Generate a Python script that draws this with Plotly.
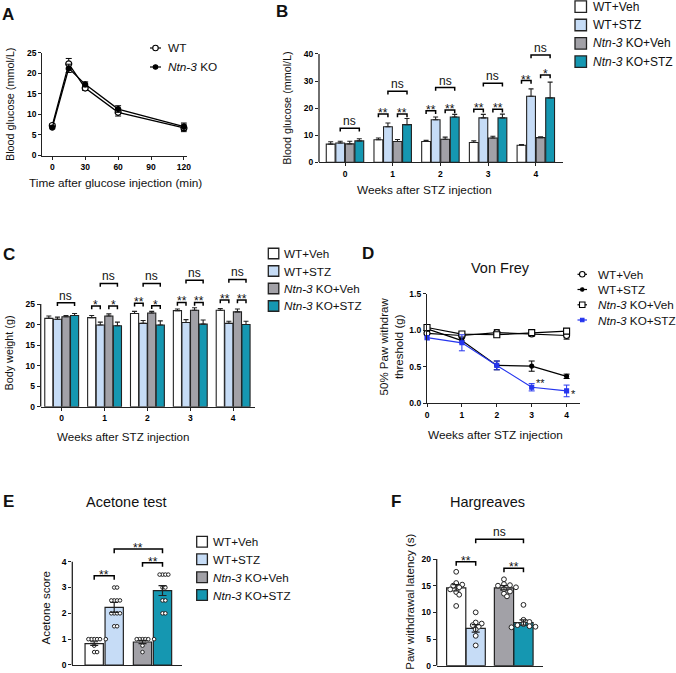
import plotly.graph_objects as go

W, H = 676, 673
FONT = "Liberation Sans, Arial, sans-serif"
INK = "#222222"

# ---------------- data ----------------
# A: glucose tolerance test
a_time = [0, 15, 30, 60, 120]
a_wt = [7.3, 22.3, 16.4, 10.5, 6.7]
a_wt_err = [0.4, 1.3, 0.6, 0.9, 0.9]
a_ko = [6.8, 21.2, 17.3, 11.3, 7.0]
a_ko_err = [0.3, 1.0, 0.6, 0.8, 0.9]

groups = ["WT+Veh", "WT+STZ", "<i>Ntn-3</i> KO+Veh", "<i>Ntn-3</i> KO+STZ"]
weeks = [0, 1, 2, 3, 4]

# B: blood glucose after STZ
b_wt_veh = [6.7, 8.3, 7.7, 7.3, 6.3]
b_wt_stz = [7.1, 13.1, 15.7, 16.4, 24.4]
b_ko_veh = [6.8, 7.7, 8.5, 9.0, 9.1]
b_ko_stz = [7.9, 13.9, 16.7, 16.4, 23.8]
b_sem = [[0.9, 0.7, 0.4, 0.6, 0.3],
         [0.7, 1.4, 1.0, 1.3, 2.7],
         [1.0, 0.7, 0.8, 0.6, 0.3],
         [0.8, 2.3, 1.0, 1.4, 5.8]]
b_sig = [(0, 1, 3, 12.6, "ns"),
         (1, 0, 1, 17.8, "**"), (1, 2, 3, 17.8, "**"), (1, 1, 3, 26.2, "ns"),
         (2, 0, 1, 19.0, "**"), (2, 2, 3, 19.3, "**"), (2, 1, 3, 27.6, "ns"),
         (3, 0, 1, 19.6, "**"), (3, 2, 3, 19.6, "**"), (3, 1, 3, 29.2, "ns"),
         (4, 0, 1, 30.2, "**"), (4, 2, 3, 32.2, "*"), (4, 1, 3, 39.6, "ns")]

# C: body weight
c_wt_veh = [21.5, 21.7, 22.7, 23.4, 23.5]
c_wt_stz = [21.3, 19.9, 20.3, 20.5, 20.3]
c_ko_veh = [21.9, 22.1, 22.8, 23.5, 23.1]
c_ko_stz = [22.2, 19.7, 19.9, 20.1, 20.0]
c_sem = [[0.6, 0.5, 0.5, 0.4, 0.4],
         [0.5, 0.7, 0.7, 0.7, 0.5],
         [0.3, 0.5, 0.4, 0.6, 0.7],
         [0.5, 0.9, 1.0, 1.0, 0.8]]
c_sig = [(0, 1, 3, 25.3, "ns"),
         (1, 0, 1, 24.5, "*"), (1, 2, 3, 24.5, "*"), (1, 1, 3, 30.0, "ns"),
         (2, 0, 1, 25.2, "**"), (2, 2, 3, 24.6, "*"), (2, 1, 3, 30.0, "ns"),
         (3, 0, 1, 25.4, "**"), (3, 2, 3, 25.4, "**"), (3, 1, 3, 30.8, "ns"),
         (4, 0, 1, 26.0, "**"), (4, 2, 3, 26.0, "**"), (4, 1, 3, 31.0, "ns")]

# D: Von Frey
d_wt_veh = [0.96, 0.93, 0.97, 0.95, 0.93]
d_wt_veh_err = [0.03, 0.02, 0.04, 0.03, 0.05]
d_wt_stz = [1.02, 0.86, 0.52, 0.51, 0.37]
d_wt_stz_err = [0.03, 0.03, 0.06, 0.07, 0.03]
d_ko_veh = [1.04, 0.95, 0.94, 0.97, 0.99]
d_ko_veh_err = [0.04, 0.02, 0.03, 0.03, 0.03]
d_ko_stz = [0.90, 0.83, 0.52, 0.22, 0.17]
d_ko_stz_err = [0.03, 0.11, 0.06, 0.05, 0.08]

# E: acetone test
e_mean = [0.83, 2.23, 0.89, 2.88]
e_sem = [0.07, 0.19, 0.06, 0.19]
e_wt_veh = [1, 1, 1, 1, 1, 1, 0.75, 0.5, 0.5]
e_wt_stz = [3, 3, 2.5, 2.5, 2.5, 2.5, 2, 2, 2, 2, 1.5, 1.5]
e_ko_veh = [1, 1, 1, 1, 1, 1, 0.75, 0.5]
e_ko_stz = [3.5, 3.5, 3.5, 3.5, 3, 3, 2.5, 2.5, 2, 2]
e_sig = [(0, 1, 3.46, "**"), (2, 3, 3.96, "**"), (1, 3, 4.49, "**")]

# F: Hargreaves
f_mean = [14.6, 7.0, 14.6, 8.1]
f_sem = [0.6, 0.7, 0.4, 0.5]
f_wt_veh = [17.6, 15.5, 15.2, 15.0, 14.7, 14.3, 13.8, 13.3, 11.2]
f_wt_stz = [10.0, 8.1, 7.9, 7.6, 7.3, 6.8, 5.6, 3.8]
f_ko_veh = [16.2, 15.3, 15.1, 15.0, 14.7, 14.3, 13.9, 13.5, 13.0]
f_ko_stz = [11.4, 8.6, 8.2, 7.8, 7.6, 7.4, 7.3, 7.2]
f_sig = [(0, 1, 19.5, "**"), (2, 3, 18.25, "**"), (1, 3, 23.7, "ns")]

# ---------------- styling ----------------
bar_colors = ["#ffffff", "#c6dcf6", "#a2a1a7", "#1597b1"]
blue = "#2535ee"
TICKFONT = dict(family=FONT, size=8.5, color="black", weight="bold")


def fx(p):
    return p / W


def fy(p):
    return 1 - p / H


def ydom(zero_px, unit_px, top):
    return [fy(zero_px), fy(zero_px - unit_px * top)]


fig = go.Figure()
shapes = []
ann = []


def label(x, y, s, size=11.5, xanchor="center", yanchor="middle", **kw):
    ann.append(dict(x=fx(x), y=fy(y), xref="paper", yref="paper", text=s,
                    xanchor=xanchor, yanchor=yanchor, borderpad=0,
                    showarrow=False, font=dict(family=FONT, size=size, color="#111"), **kw))


def bracket(xr, yr, x0, x1, y, leg, s, size=12):
    shapes.append(dict(type="path", xref=xr, yref=yr,
                       path=f"M{x0},{y - leg} L{x0},{y} L{x1},{y} L{x1},{y - leg}",
                       line=dict(color="black", width=1.5)))
    ann.append(dict(x=(x0 + x1) / 2, y=y, xref=xr, yref=yr, text=s, showarrow=False,
                    xanchor="center", yanchor="bottom", yshift=-8 if "*" in s else -2,
                    font=dict(family=FONT, size=size, color="#111")))


def yline(n, top):
    shapes.append(dict(type="line", xref=f"x{n} domain", yref=f"y{n}", x0=0, x1=0, y0=0, y1=top,
                       line=dict(color=INK, width=1.3)))


def swarm(vals, unit_px, d_px, step_px, x_unit_px):
    placed, offs = [], []
    cands = [0]
    for m in range(1, 25):
        cands += [m * step_px, -m * step_px]
    for v in vals:
        y = v * unit_px
        for c in cands:
            if all((c - px) ** 2 + (y - py) ** 2 >= d_px ** 2 for px, py in placed):
                break
        placed.append((c, y))
        offs.append(c / x_unit_px)
    return offs


# ---------------- A ----------------
for vals, err, filled in [(a_wt, a_wt_err, False), (a_ko, a_ko_err, True)]:
    fig.add_trace(go.Scatter(
        x=a_time, y=vals, mode="lines+markers", xaxis="x", yaxis="y", cliponaxis=False,
        line=dict(color="black", width=1.3),
        marker=dict(symbol="circle", size=5 if filled else 6, color="black" if filled else "white",
                    line=dict(color="black", width=1.2)),
        error_y=dict(type="data", array=err, color="black", thickness=1, width=3)))

# ---------------- B & C bars ----------------
offs = [-0.3, -0.1, 0.1, 0.3]
for n, series, sems, sig, bw, leg in [
        (2, [b_wt_veh, b_wt_stz, b_ko_veh, b_ko_stz], b_sem, b_sig, 0.185, 1.2),
        (3, [c_wt_veh, c_wt_stz, c_ko_veh, c_ko_stz], c_sem, c_sig, 0.19, 0.8)]:
    for gi in range(4):
        fig.add_trace(go.Bar(
            x=weeks, y=series[gi], width=bw, offset=offs[gi] - bw / 2,
            xaxis=f"x{n}", yaxis=f"y{n}",
            marker=dict(color=bar_colors[gi], line=dict(color=INK, width=1.1)),
            error_y=dict(type="data", symmetric=False, array=sems[gi], arrayminus=[0] * 5,
                         color=INK, thickness=1.1, width=2.5)))
    for wk, i, j, y, s in sig:
        bracket(f"x{n}", f"y{n}", wk + offs[i], wk + offs[j], y, leg, s)

# ---------------- D ----------------
d_series = [(d_wt_veh, d_wt_veh_err, "circle", 6, "white", "black"),
            (d_wt_stz, d_wt_stz_err, "circle", 4, "black", "black"),
            (d_ko_veh, d_ko_veh_err, "square", 6, "white", "black"),
            (d_ko_stz, d_ko_stz_err, "square", 4, blue, blue)]
for vals, err, sym, sz, fill, col in d_series:
    fig.add_trace(go.Scatter(
        x=weeks, y=vals, mode="lines+markers", xaxis="x4", yaxis="y4", cliponaxis=False,
        line=dict(color=col, width=1.2),
        marker=dict(symbol=sym, size=sz, color=fill, line=dict(color=col, width=1.1)),
        error_y=dict(type="data", array=err, color=col, thickness=1, width=3)))
ann.append(dict(x=3.24, y=0.28, xref="x4", yref="y4", text="**", showarrow=False,
                font=dict(family=FONT, size=11, color="#111")))
ann.append(dict(x=4.2, y=0.13, xref="x4", yref="y4", text="*", showarrow=False,
                font=dict(family=FONT, size=11, color="#111")))

# ---------------- E & F dot bars ----------------
for n, means, sems, dots, sig, gap, bw, unit_px, xunit, dsz, dd, step, leg in [
        (5, e_mean, e_sem, [e_wt_veh, e_wt_stz, e_ko_veh, e_ko_stz], e_sig,
         0.415, 0.915, 25.83, 20.0, 3.6, 2.9, 2.9, 0.16),
        (6, f_mean, f_sem, [f_wt_veh, f_wt_stz, f_ko_veh, f_ko_stz], f_sig,
         0.45, 0.985, 5.335, 19.5, 4.8, 4.0, 3.0, 0.75)]:
    pos = [i + (i // 2) * gap for i in range(4)]
    fig.add_trace(go.Bar(
        x=pos, y=means, width=bw, xaxis=f"x{n}", yaxis=f"y{n}",
        marker=dict(color=bar_colors, line=dict(color=INK, width=1.2))))
    for gi in range(4):
        o = swarm(dots[gi], unit_px, dd, step, xunit)
        fig.add_trace(go.Scatter(
            x=[pos[gi] + k for k in o], y=dots[gi], mode="markers", xaxis=f"x{n}", yaxis=f"y{n}",
            cliponaxis=False,
            marker=dict(symbol="circle", size=dsz, color="white", line=dict(color=INK, width=1.0))))
    fig.add_trace(go.Scatter(
        x=pos, y=means, mode="markers", xaxis=f"x{n}", yaxis=f"y{n}",
        marker=dict(size=1, color="rgba(0,0,0,0)"),
        error_y=dict(type="data", array=sems, color=INK, thickness=1.2, width=4)))
    for i, j, y, s in sig:
        bracket(f"x{n}", f"y{n}", pos[i], pos[j], y, leg, s)

# y axis lines drawn only up to the last tick
yline(2, 40)
yline(3, 25)
yline(5, 4)
yline(6, 20)

# ---------------- axes ----------------
AX = dict(showgrid=False, zeroline=False, linecolor=INK, linewidth=1.3, ticks="outside",
          ticklen=3, tickwidth=1.2, tickcolor=INK, tickfont=TICKFONT, fixedrange=True)

layout_axes = dict(
    xaxis=dict(AX, domain=[fx(42.3), fx(186.7)], range=[-9.1, 122.5], anchor="y",
               tickvals=[0, 30, 60, 90, 120], showline=True),
    yaxis=dict(AX, domain=[fy(155.5), fy(52.7)], range=[0, 25], anchor="x",
               tickvals=[0, 5, 10, 15, 20, 25], showline=True),
    xaxis2=dict(AX, domain=[fx(319), fx(563)], range=[-0.545, 4.57], anchor="y2",
                tickvals=weeks, showline=True),
    yaxis2=dict(AX, domain=ydom(162.3, 2.708, 46), range=[0, 46], anchor="x2",
                tickvals=[0, 10, 20, 30, 40], showline=False),
    xaxis3=dict(AX, domain=[fx(40.7), fx(255)], range=[-0.49, 4.51], anchor="y3",
                tickvals=weeks, showline=True),
    yaxis3=dict(AX, domain=ydom(406.7, 4.107, 34), range=[0, 34], anchor="x3",
                tickvals=[0, 5, 10, 15, 20, 25], showline=False),
    xaxis4=dict(AX, domain=[fx(427), fx(580)], range=[0, 4.384], anchor="y4",
                tickvals=weeks, showline=True),
    yaxis4=dict(AX, domain=ydom(403.3, 72.9, 1.5), range=[0, 1.5], anchor="x4",
                tickvals=[0, 0.5, 1.0, 1.5], tickformat=".1f", showline=True),
    xaxis5=dict(AX, domain=[fx(72.3), fx(181.7)], range=[-1.095, 4.375], anchor="y5",
                ticks="", showticklabels=False, showline=True),
    yaxis5=dict(AX, domain=ydom(665, 25.83, 5.1), range=[0, 5.1], anchor="x5",
                tickvals=[0, 1, 2, 3, 4], showline=False),
    xaxis6=dict(AX, domain=[fx(436.7), fx(542.7)], range=[-1.0, 4.436], anchor="y6",
                ticks="", showticklabels=False, showline=True),
    yaxis6=dict(AX, domain=ydom(665.7, 5.335, 26.5), range=[0, 26.5], anchor="x6",
                tickvals=[0, 5, 10, 15, 20], showline=False),
)

# ---------------- legends ----------------
def box_legend(left, size, rows, tx, fs):
    for gi, yc in enumerate(rows):
        shapes.append(dict(type="rect", xref="paper", yref="paper",
                           x0=fx(left), x1=fx(left + size), y0=fy(yc + size / 2), y1=fy(yc - size / 2),
                           fillcolor=bar_colors[gi], line=dict(color=INK, width=1.3)))
        label(tx, yc, groups[gi], size=fs, xanchor="left")


def marker_shape(xc, yc, kind, d, fill, col):
    shapes.append(dict(type="circle" if kind == "circle" else "rect", xref="paper", yref="paper",
                       x0=fx(xc - d / 2), x1=fx(xc + d / 2), y0=fy(yc + d / 2), y1=fy(yc - d / 2),
                       fillcolor=fill, line=dict(color=col, width=1.1)))


def line_legend(x0, x1, rows, specs, names, tx, fs):
    for yc, (kind, d, fill, col), name in zip(rows, specs, names):
        shapes.append(dict(type="line", xref="paper", yref="paper", x0=fx(x0), x1=fx(x1),
                           y0=fy(yc), y1=fy(yc), line=dict(color=col, width=1.2)))
        marker_shape((x0 + x1) / 2, yc, kind, d, fill, col)
        label(tx, yc, name, size=fs, xanchor="left")


line_legend(150, 161, [48, 67], [("circle", 5.5, "white", "black"), ("circle", 4.5, "black", "black")],
            ["WT", "<i>Ntn-3</i> KO"], 167, 11.8)
box_legend(575, 11.5, [6.7, 25, 43.3, 61.7], 591.7, 12)
box_legend(268.3, 10.5, [253.5, 271, 288.5, 306], 283, 11.7)
line_legend(577.5, 587, [274.3, 289.5, 304.8, 320],
            [("circle", 5.5, "white", "black"), ("circle", 3.5, "black", "black"),
             ("rect", 5.5, "white", "black"), ("rect", 3.5, blue, blue)],
            groups, 596.7, 11.7)
box_legend(196.7, 10.7, [541.7, 559.3, 577.3, 595], 211.7, 11.7)

# ---------------- texts ----------------
for ch, x, y in [("A", 8, 14), ("B", 282, 11), ("C", 9, 254), ("D", 368, 253), ("E", 8, 501), ("F", 396, 501)]:
    label(x, y, f"<b>{ch}</b>", size=17)

label(115.5, 183.3, "Time after glucose injection (min)", size=11.8)
label(424, 190, "Weeks after STZ injection", size=11.8)
label(123, 436.7, "Weeks after STZ injection", size=11.6)
label(495.8, 435, "Weeks after STZ injection", size=11.8)

label(10, 105, "Blood glucose (mmol/L)", size=10.8, textangle=-90)
label(286.7, 108, "Blood glucose (mmol/L)", size=10.8, textangle=-90)
label(8.5, 353, "Body weight (g)", size=10.8, textangle=-90)
label(391.7, 346.7, "50% Paw withdraw<br>threshold (g)", size=11.5, textangle=-90)
label(45, 607.5, "Acetone score", size=11.5, textangle=-90)
label(410, 601.7, "Paw withdrawal latency (s)", size=11.5, textangle=-90)

label(500, 268.3, "Von Frey", size=14.5)
label(126.7, 501.7, "Acetone test", size=14.5)
label(487.5, 501.7, "Hargreaves", size=14.5)

fig.update_layout(
    width=W, height=H, autosize=False,
    margin=dict(l=0, r=0, t=0, b=0, autoexpand=False),
    paper_bgcolor="white", plot_bgcolor="white",
    showlegend=False, barmode="overlay",
    font=dict(family=FONT, color="#111"),
    shapes=shapes, annotations=ann,
    **layout_axes)

# the page's default body margin would shift the 676x673 figure; remove it
fig.write_html("out.html", config={"displayModeBar": False},
               post_script="document.body.style.margin='0';document.body.style.overflow='hidden';")
